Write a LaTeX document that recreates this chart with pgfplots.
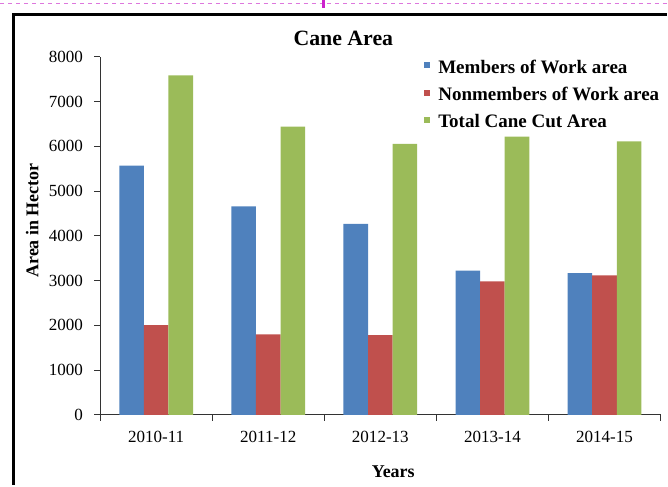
\documentclass[border=0pt]{standalone}
\usepackage{fontspec}
\setmainfont{Liberation Serif}
\usepackage{pgfplots}
\pgfplotsset{compat=1.18}
\definecolor{xblue}{HTML}{4F81BD}
\definecolor{xred}{HTML}{C0504D}
\definecolor{xgreen}{HTML}{9BBB59}
\definecolor{xmag}{HTML}{DD77DD}
\definecolor{xmagd}{HTML}{CC22CC}
\begin{document}
\begin{tikzpicture}
\begin{axis}[
  at={(0pt,0pt)}, anchor=south west,
  scale only axis, width=421.5pt, height=269.25pt,
  ybar=0pt, bar width=18.5pt,
  xmin=0.5, xmax=5.5, ymin=0, ymax=8000,
  axis x line=bottom, axis y line=left,
  axis line style={-, black!80, line width=0.7pt},
  tick align=outside,
  xtick={1,2,3,4,5},
  xticklabels={2010-11,2011-12,2012-13,2013-14,2014-15},
  major x tick style={draw=none},
  minor xtick={0.5,1.5,2.5,3.5,4.5,5.5},
  minor tick length=4.5pt,
  major tick length=4.5pt,
  tick style={black!80, line width=0.6pt},
  ytick={0,1000,...,8000},
  /pgf/number format/assume math mode=true,
  /pgf/number format/1000 sep={},
  ticklabel style={font=\fontsize{12.8}{14}\selectfont},
  yticklabel style={inner sep=0pt, xshift=-8.25pt},
  xticklabel style={inner sep=0pt, yshift=-7.5pt},
  title={\textbf{Cane Area}},
  title style={font=\fontsize{16.4}{18}\selectfont, at={(axis description cs:0.434,1.009)}, anchor=base, inner sep=0pt},
  xlabel={\textbf{Years}},
  xlabel style={font=\fontsize{13.5}{15}\selectfont, at={(axis description cs:0.523,-0.1755)}, anchor=base, inner sep=0pt},
  ylabel={\textbf{Area in Hector}},
  ylabel style={font=\fontsize{13.5}{15}\selectfont, at={(axis description cs:-0.11,0.543)}, anchor=base, inner sep=0pt},
  legend style={draw=none, fill=none, at={(axis description cs:0.578,0.9925)}, anchor=north west,
    inner sep=0pt, row sep=7.6pt, column sep=6pt, font=\fontsize{14.3}{16}\bfseries,
    nodes={text height=10pt, text depth=3pt, inner sep=0pt}},
  legend cell align=left,
  legend image code/.code={\fill[#1] (0pt,0.25pt) rectangle (4.5pt,4.75pt);},
]
\addplot[fill=xblue, draw=none] coordinates {(1,5570) (2,4660) (3,4265) (4,3225) (5,3165)};
\addplot[fill=xred, draw=none] coordinates {(1,2005) (2,1800) (3,1780) (4,2985) (5,3115)};
\addplot[fill=xgreen, draw=none] coordinates {(1,7585) (2,6440) (3,6055) (4,6215) (5,6110)};
\legend{Members of Work area, Nonmembers of Work area, Total Cane Cut Area}
\end{axis}
% slide decorations (pt: 1 px of the reference = 0.75pt, origin at the axis corner)
\draw[xmag, dashed, line width=0.6pt] (-75pt,309.75pt) -- (426pt,309.75pt);
\fill[xmagd] (166.5pt,306pt) rectangle (169.5pt,312pt);
\draw[black, line width=2.2pt] (-65.25pt,-52.5pt) -- (-65.25pt,300.75pt) -- (426pt,300.75pt);
\useasboundingbox (-75pt,-52.5pt) rectangle (426pt,312pt);
\end{tikzpicture}
\end{document}
